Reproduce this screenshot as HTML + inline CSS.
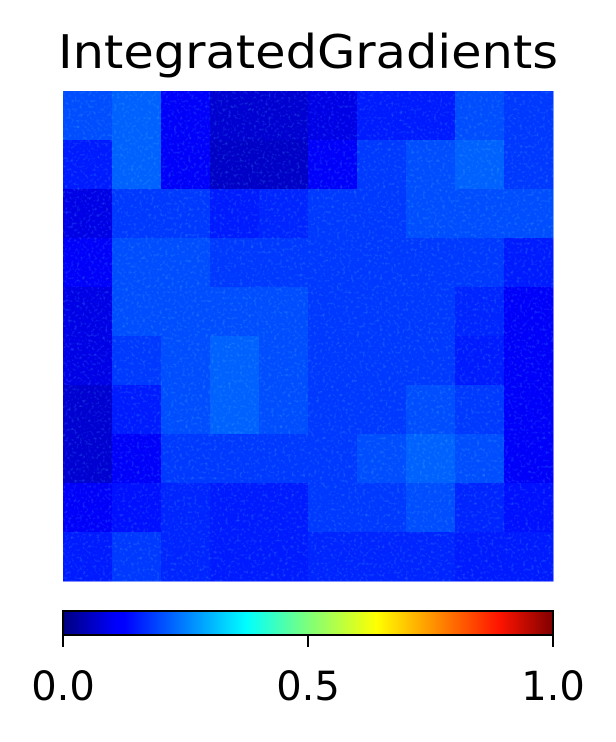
<!DOCTYPE html>
<html><head><meta charset="utf-8">
<style>
html,body{margin:0;padding:0;background:#fff;}
body{width:616px;height:738px;position:relative;overflow:hidden;font-family:"DejaVu Sans","Liberation Sans",sans-serif;}
</style></head>
<body>
<svg width="616" height="738" xmlns="http://www.w3.org/2000/svg">
<defs>
<linearGradient id="jet" x1="0" x2="1" y1="0" y2="0">
<stop offset="0" stop-color="#000080"/>
<stop offset="0.11" stop-color="#0000ff"/>
<stop offset="0.125" stop-color="#0000ff"/>
<stop offset="0.34" stop-color="#00dcff"/>
<stop offset="0.375" stop-color="#00ffff"/>
<stop offset="0.5" stop-color="#7dff7a"/>
<stop offset="0.64" stop-color="#ffff00"/>
<stop offset="0.89" stop-color="#ff1400"/>
<stop offset="1" stop-color="#800000"/>
</linearGradient>
<filter id="speck" x="0" y="0" width="1" height="1" filterUnits="objectBoundingBox"><feTurbulence type="fractalNoise" baseFrequency="0.35" numOctaves="2" seed="3"/><feColorMatrix values="0 0 0 0 0.1  0 0 0 0 0.7  0 0 0 0 1  0 0 0 1.4 -0.75"/></filter>
<clipPath id="hclip"><rect x="63" y="91" width="490" height="490"/></clipPath>
</defs>
<text x="308" y="68" text-anchor="middle" font-size="46" textLength="500" lengthAdjust="spacingAndGlyphs" font-family="DejaVu Sans, sans-serif">IntegratedGradients</text>
<g id="heat"></g>
<rect x="63" y="91" width="490" height="490" filter="url(#speck)" clip-path="url(#hclip)" opacity="0.55"/>
<rect x="63" y="611" width="490" height="24" fill="url(#jet)" stroke="#000" stroke-width="2"/>
<g id="cbticks"></g>
</svg>
<script>
const values = [
[0.2,0.22,0.12,0.08,0.08,0.1,0.15,0.15,0.2,0.18],
[0.15,0.22,0.12,0.07,0.07,0.12,0.18,0.2,0.22,0.18],
[0.1,0.18,0.18,0.15,0.16,0.18,0.18,0.2,0.2,0.2],
[0.12,0.2,0.2,0.18,0.18,0.18,0.18,0.18,0.18,0.15],
[0.1,0.2,0.2,0.2,0.2,0.18,0.18,0.18,0.16,0.12],
[0.1,0.18,0.2,0.22,0.2,0.18,0.18,0.18,0.15,0.12],
[0.08,0.15,0.2,0.22,0.2,0.18,0.18,0.2,0.18,0.12],
[0.08,0.12,0.18,0.18,0.18,0.18,0.2,0.22,0.2,0.12],
[0.12,0.14,0.16,0.15,0.15,0.18,0.18,0.2,0.16,0.14],
[0.15,0.18,0.16,0.15,0.15,0.16,0.16,0.16,0.15,0.15]
];
const tickValues = [0, 0.5, 1];
const tickLabels = ["0.0", "0.5", "1.0"];
const NS = "http://www.w3.org/2000/svg";
const X0 = 63, Y0 = 91, W = 490, H = 490;
const nR = values.length, nC = values[0].length;
function xScale(c){ return X0 + c * W / nC; }
function yScale(r){ return Y0 + r * H / nR; }
function cbScale(v){ return X0 + v * W; }
function jet(v){
  function f(x){ return Math.max(0, Math.min(1, x)); }
  const r = f(1.5 - Math.abs(4*v - 3)), g = f(1.5 - Math.abs(4*v - 2)), b = f(1.5 - Math.abs(4*v - 1));
  return `rgb(${Math.round(r*255)},${Math.round(g*255)},${Math.round(b*255)})`;
}
const heat = document.getElementById('heat');
values.forEach((row, r) => row.forEach((v, c) => {
  const el = document.createElementNS(NS, 'rect');
  el.setAttribute('x', xScale(c)); el.setAttribute('y', yScale(r));
  el.setAttribute('width', W/nC + 0.5); el.setAttribute('height', H/nR + 0.5);
  el.setAttribute('fill', jet(v));
  
  
  heat.appendChild(el);
}));
const cb = document.getElementById('cbticks');
tickValues.forEach((v, i) => {
  const x = cbScale(v);
  const l = document.createElementNS(NS, 'line');
  l.setAttribute('x1', x); l.setAttribute('x2', x); l.setAttribute('y1', 635); l.setAttribute('y2', 647);
  l.setAttribute('stroke', '#000'); l.setAttribute('stroke-width', 2);
  
  
  cb.appendChild(l);
  const t = document.createElementNS(NS, 'text');
  t.setAttribute('x', x); t.setAttribute('y', 700); t.setAttribute('text-anchor', 'middle');
  t.setAttribute('font-size', '40'); t.setAttribute('font-family', 'DejaVu Sans, sans-serif');
  t.textContent = tickLabels[i];
  
  
  cb.appendChild(t);
});
</script>
</body></html>
